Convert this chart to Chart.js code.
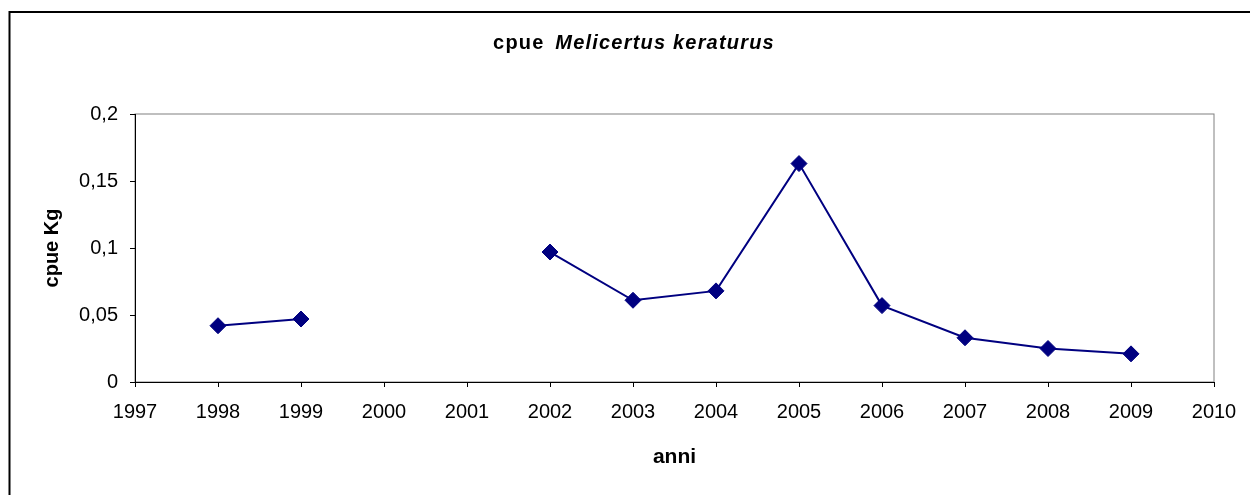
<!DOCTYPE html>
<html><head><meta charset="utf-8">
<script src="https://cdn.jsdelivr.net/npm/chart.js@4/dist/chart.umd.min.js"></script>
<style>html,body{margin:0;padding:0;background:#fff;} #wrap{width:1250px;height:495px;position:relative}</style>
</head><body><div id="wrap"><canvas id="c" width="1250" height="495"></canvas></div>
<script>
const years = [1998, 1999, 2000, 2001, 2002, 2003, 2004, 2005, 2006, 2007, 2008, 2009];
const cpueKg = [0.042, 0.047, null, null, 0.097, 0.061, 0.068, 0.163, 0.057, 0.033, 0.025, 0.021];
const xTickValues = [1997, 1998, 1999, 2000, 2001, 2002, 2003, 2004, 2005, 2006, 2007, 2008, 2009, 2010];
const xTickLabels = ['1997', '1998', '1999', '2000', '2001', '2002', '2003', '2004', '2005', '2006', '2007', '2008', '2009', '2010'];
const yTickValues = [0, 0.05, 0.1, 0.15, 0.2];
const yTickLabels = ['0', '0,05', '0,1', '0,15', '0,2'];
const titleNormal = 'cpue ';
const titleItalic = 'Melicertus keraturus';
const xTitle = 'anni';
const yTitle = 'cpue Kg';

const FONT = "'Liberation Sans', Arial, sans-serif";

const framePlugin = {
  id: 'frames',
  beforeDraw(chart) {
    const {ctx, chartArea: a} = chart;
    ctx.save();
    ctx.strokeStyle = '#808080';
    ctx.lineWidth = 1;
    ctx.strokeRect(a.left, a.top, a.right - a.left, a.bottom - a.top);
    ctx.restore();
  },
  afterDraw(chart) {
    const ctx = chart.ctx;
    ctx.save();
    ctx.strokeStyle = '#000';
    ctx.lineWidth = 2;
    ctx.beginPath();
    ctx.moveTo(9.5, 495);
    ctx.lineTo(9.5, 12);
    ctx.lineTo(1250, 12);
    ctx.stroke();
    ctx.fillStyle = '#000';
    ctx.textBaseline = 'alphabetic';
    ctx.textAlign = 'left';
    if ('letterSpacing' in ctx) ctx.letterSpacing = '1.2px';
    ctx.font = 'bold 20px ' + FONT;
    const w1 = ctx.measureText(titleNormal).width + 4;
    ctx.font = 'italic bold 20px ' + FONT;
    const w2 = ctx.measureText(titleItalic).width;
    const cx = 634;
    const x = cx - (w1 + w2) / 2;
    ctx.font = 'bold 20px ' + FONT;
    ctx.fillText(titleNormal, x, 49);
    ctx.font = 'italic bold 20px ' + FONT;
    ctx.fillText(titleItalic, x + w1, 49);
    ctx.restore();
  }
};

new Chart(document.getElementById('c'), {
  type: 'line',
  data: {
    datasets: [{
      label: 'cpue',
      data: years.map((y, i) => ({x: y, y: cpueKg[i]})),
      borderColor: '#000080',
      backgroundColor: '#000080',
      borderWidth: 2,
      pointStyle: 'rectRot',
      pointRadius: 8,
      pointBorderWidth: 1,
      pointBackgroundColor: '#000080',
      pointBorderColor: '#000080',
      spanGaps: false,
      tension: 0,
      fill: false
    }]
  },
  options: {
    responsive: false,
    devicePixelRatio: 1,
    animation: false,
    layout: {padding: {left: 0, top: 114, right: 36, bottom: 0}},
    plugins: {legend: {display: false}, title: {display: false}, tooltip: {enabled: false}},
    scales: {
      x: {
        type: 'linear',
        min: 1997, max: 2010,
        afterBuildTicks(s) { s.ticks = xTickValues.map(v => ({value: v})); },
        afterFit(s) { s.height = 113; },
        ticks: {
          callback: (v, i) => xTickLabels[i],
          font: {family: FONT, size: 20},
          color: '#000',
          padding: 13,
          maxRotation: 0,
          autoSkip: false
        },
        grid: {display: true, drawOnChartArea: false, drawTicks: true, tickLength: 5, color: '#000'},
        border: {display: true, color: '#000', width: 1},
        title: {display: true, text: xTitle, font: {family: FONT, size: 21, weight: 'bold'}, color: '#000', padding: {top: 0, bottom: 25}}
      },
      y: {
        type: 'linear',
        min: 0, max: 0.2,
        afterBuildTicks(s) { s.ticks = yTickValues.map(v => ({value: v})); },
        afterFit(s) { s.width = 135; },
        ticks: {
          callback: (v, i) => yTickLabels[i],
          font: {family: FONT, size: 20},
          color: '#000',
          padding: 12
        },
        grid: {display: true, drawOnChartArea: false, drawTicks: true, tickLength: 5, color: '#000'},
        border: {display: true, color: '#000', width: 1},
        title: {display: true, text: yTitle, font: {family: FONT, size: 20, weight: 'bold'}, color: '#000', padding: {top: 40, bottom: 0}}
      }
    }
  },
  plugins: [framePlugin]
});
</script>
</body></html>
